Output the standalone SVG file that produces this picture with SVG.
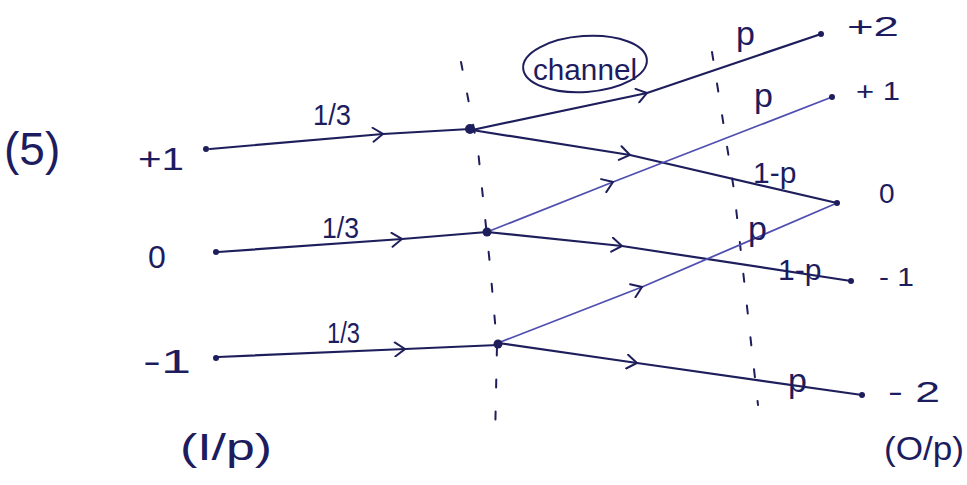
<svg xmlns="http://www.w3.org/2000/svg" width="967" height="485" viewBox="0 0 967 485">
<defs>
<style>
.t{font-family:"Liberation Sans","DejaVu Sans",sans-serif;fill:#1c1c5e}
.ln{fill:none;stroke:#1e1e5c;stroke-width:2.2;stroke-linecap:round;stroke-linejoin:round}
.lt{stroke:#4f4fb0;stroke-width:1.8}
.dash{fill:none;stroke:#1e1e5c;stroke-width:2;stroke-dasharray:8 24;stroke-linecap:round}
.dot{fill:#1e1e5c}
</style>
<marker id="chev" viewBox="-12 -8 14 16" markerWidth="14" markerHeight="16" refX="0" refY="0" orient="auto" markerUnits="userSpaceOnUse">
<path d="M-10,-7 L0,0 L-10,7" fill="none" stroke="#1e1e5c" stroke-width="2" stroke-linecap="round"/>
</marker>
</defs>
<rect width="967" height="485" fill="#ffffff"/>

<text class="t" x="4" y="165" font-size="46">(5)</text>

<g id="dividers">
<path class="dash" d="M461,62 L478,150 L490,265 L497,345 L495,440"/>
<path class="dash" d="M712,52 L734,190 L758,405"/>
</g>

<g id="connectors">
<path class="ln" marker-mid="url(#chev)" d="M210,149 L383,134 L470,129"/>
<path class="ln" marker-mid="url(#chev)" d="M218,252 L402,239 L487,232"/>
<path class="ln" marker-mid="url(#chev)" d="M218,357 L405,349 L498,345"/>
<path class="ln" marker-mid="url(#chev)" d="M472,130 L647,93 L821,34"/>
<path class="ln" marker-mid="url(#chev)" d="M472,130 L630,155 L837,203"/>
<path class="ln lt" marker-mid="url(#chev)" d="M487,232 L613,182 L832,97"/>
<path class="ln" marker-mid="url(#chev)" d="M487,232 L622,246 L851,281"/>
<path class="ln lt" marker-mid="url(#chev)" d="M498,343 L642,287 L837,203"/>
<path class="ln" marker-mid="url(#chev)" d="M498,343 L637,363 L862,395"/>
</g>

<g id="edge-labels">
<text class="t" x="313" y="125" font-size="30" textLength="38" lengthAdjust="spacingAndGlyphs">1/3</text>
<text class="t" x="322" y="238" font-size="30" textLength="37" lengthAdjust="spacingAndGlyphs">1/3</text>
<text class="t" x="327" y="343" font-size="30" textLength="33" lengthAdjust="spacingAndGlyphs">1/3</text>
<text class="t" x="736" y="45" font-size="34">p</text>
<text class="t" x="754" y="107" font-size="34">p</text>
<text class="t" x="753" y="183" font-size="30">1-p</text>
<text class="t" x="748" y="240" font-size="34">p</text>
<text class="t" x="778" y="280" font-size="30">1-p</text>
<text class="t" x="788" y="392" font-size="34">p</text>
</g>

<g id="channel-label">
<ellipse cx="585" cy="64" rx="62" ry="28" fill="none" stroke="#1e1e5c" stroke-width="2" transform="rotate(-4 585 64)"/>
<text class="t" x="533" y="80" font-size="30" textLength="104" lengthAdjust="spacingAndGlyphs">channel</text>
</g>

<g id="in-plus1"><circle class="dot" cx="206" cy="149" r="3"/><text class="t" x="138" y="170" font-size="32" textLength="46" lengthAdjust="spacingAndGlyphs">+1</text></g>
<g id="in-zero"><circle class="dot" cx="216" cy="252" r="3"/><text class="t" x="148" y="268" font-size="32">0</text></g>
<g id="in-minus1"><circle class="dot" cx="216" cy="358" r="3"/><text class="t" x="143" y="373" font-size="34" textLength="48" lengthAdjust="spacingAndGlyphs">-1</text></g>
<g id="input-caption"><text class="t" x="180" y="460" font-size="36" textLength="92" lengthAdjust="spacingAndGlyphs">(I/p)</text></g>

<g id="node-a"><circle class="dot" cx="470" cy="129" r="5"/></g>
<g id="node-b"><circle class="dot" cx="487" cy="232" r="4.5"/></g>
<g id="node-c"><circle class="dot" cx="498" cy="344" r="4.5"/></g>

<g id="out-plus2"><circle class="dot" cx="821" cy="34" r="3"/><text class="t" x="847" y="36" font-size="28" textLength="52" lengthAdjust="spacingAndGlyphs">+2</text></g>
<g id="out-plus1"><circle class="dot" cx="832" cy="97" r="3"/><text class="t" x="856" y="100" font-size="26" textLength="44" lengthAdjust="spacingAndGlyphs">+ 1</text></g>
<g id="out-zero"><circle class="dot" cx="837" cy="203" r="3"/><text class="t" x="879" y="203" font-size="28">0</text></g>
<g id="out-minus1"><circle class="dot" cx="851" cy="281" r="3"/><text class="t" x="879" y="286" font-size="26" textLength="35" lengthAdjust="spacingAndGlyphs">- 1</text></g>
<g id="out-minus2"><circle class="dot" cx="862" cy="395" r="3"/><text class="t" x="888" y="402" font-size="30" textLength="52" lengthAdjust="spacingAndGlyphs">- 2</text></g>
<g id="output-caption"><text class="t" x="884" y="460" font-size="34" textLength="80" lengthAdjust="spacingAndGlyphs">(O/p)</text></g>
</svg>
